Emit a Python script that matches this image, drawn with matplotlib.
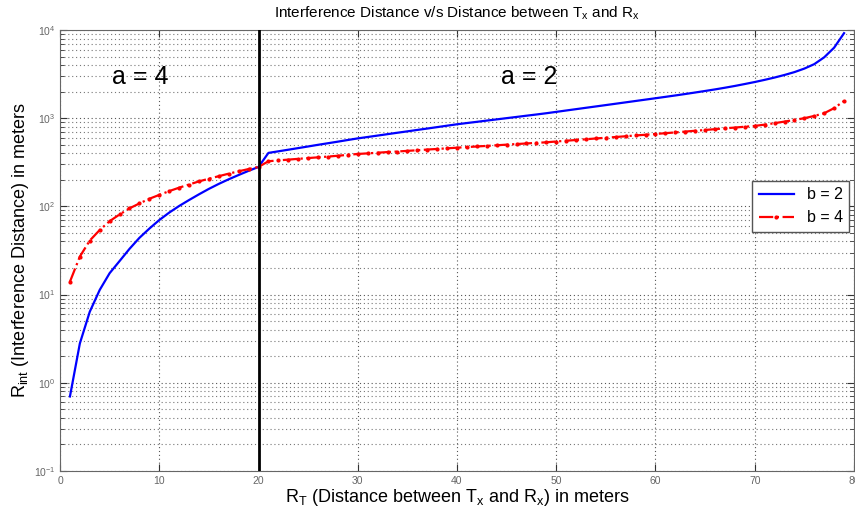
import matplotlib
matplotlib.use('Agg')
import matplotlib.pyplot as plt
from matplotlib.ticker import LogLocator, FixedLocator, NullFormatter

plt.rcParams['font.family'] = ['Liberation Sans', 'DejaVu Sans']

# distance between Tx and Rx (m)
r_t = list(range(1, 80))

# b = 2 (a = 4 up to 20 m, a = 2 beyond)
r_int_b2 = [0.7, 2.8, 6.4, 11.3, 17.5, 24, 33, 44, 56, 70,
            85, 101, 118, 137, 158, 180, 203, 227, 253, 280,
            404, 421, 439, 458, 478, 499, 520, 542, 566, 590,
            612, 635, 659, 684, 709, 736, 763, 792, 822, 853,
            881, 909, 939, 969, 1001, 1033, 1067, 1101, 1138, 1179,
            1222, 1266, 1312, 1359, 1408, 1459, 1512, 1567, 1624, 1683,
            1745, 1810, 1880, 1955, 2035, 2120, 2215, 2320, 2440, 2570,
            2720, 2890, 3090, 3330, 3650, 4100, 4900, 6300, 9200]

# b = 4
r_int_b4 = [14, 27, 41, 54, 68, 81, 95, 108, 122, 135,
            149, 163, 177, 192, 206, 220, 235, 250, 265, 280,
            325, 332, 339, 346, 353, 360, 367, 375, 384, 393,
            399, 406, 413, 419, 426, 433, 441, 448, 455, 463,
            470, 478, 485, 493, 501, 509, 517, 525, 533, 544,
            555, 566, 577, 589, 600, 612, 624, 637, 649, 662,
            676, 690, 705, 720, 735, 751, 767, 783, 800, 817,
            845, 878, 915, 955, 1000, 1060, 1138, 1300, 1567]

boundary = 20
region_labels = [(8.1, 2900, 'a = 4'), (47.3, 2900, 'a = 2')]

fig = plt.figure(figsize=(8.55, 5.16), dpi=100)
ax = fig.add_axes([0.0702, 0.0872, 0.9286, 0.8547])

ax.semilogy(r_t, r_int_b2, color='#0000ff', lw=1.6, label='b = 2', zorder=3)
ax.semilogy(r_t, r_int_b4, color='#ff0000', lw=1.6, ls='-.', marker='.',
            markersize=4, label='b = 4', zorder=3)
ax.axvline(boundary, color='black', lw=2, zorder=4)

for x, y, s in region_labels:
    ax.text(x, y, s, fontsize=18, ha='center', va='center')

ax.set_xlim(0, 80)
ax.set_ylim(0.1, 1e4)
ax.xaxis.set_major_locator(FixedLocator(range(0, 81, 10)))
ax.yaxis.set_major_locator(LogLocator(base=10, numticks=10))
ax.yaxis.set_minor_locator(LogLocator(base=10, subs=range(2, 10), numticks=10))
ax.yaxis.set_minor_formatter(NullFormatter())

ax.grid(True, which='major', ls=(0, (1, 2.5)), color='#555555', lw=0.8)
ax.grid(True, which='minor', axis='y', ls=(0, (1, 2.5)), color='#777777', lw=0.8)
ax.tick_params(which='both', direction='in', top=True, right=True,
               labelsize=7.5, labelcolor='#666666', color='#333333')
ax.tick_params(which='major', length=5)
ax.tick_params(which='minor', length=3)
for sp in ax.spines.values():
    sp.set_color('#666666')

ax.set_title('Interference Distance v/s Distance between T$_\\mathregular{x}$ and R$_\\mathregular{x}$',
             fontsize=11, pad=9)
ax.set_xlabel('R$_\\mathregular{T}$ (Distance between T$_\\mathregular{x}$ and R$_\\mathregular{x}$) in meters',
              fontsize=13, labelpad=1)
ax.set_ylabel('R$_\\mathregular{int}$ (Interference Distance) in meters', fontsize=13, labelpad=2)

leg = ax.legend(loc='center right', bbox_to_anchor=(1.0, 0.6), fontsize=11.5,
                fancybox=False, framealpha=1, edgecolor='#555555',
                borderaxespad=0.3, handlelength=2.2)
leg.get_frame().set_linewidth(1.0)

fig.savefig('out.png', dpi=100)
